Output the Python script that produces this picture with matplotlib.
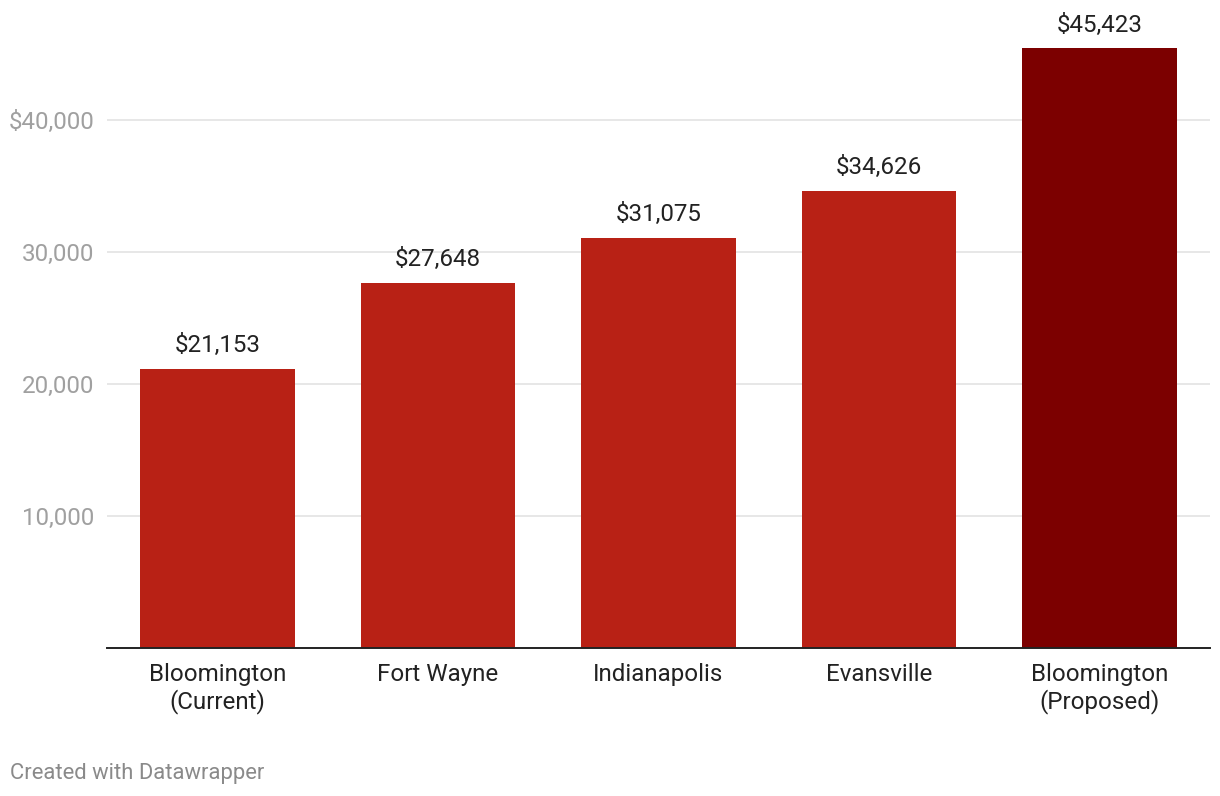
import matplotlib
matplotlib.use("Agg")
from matplotlib import pyplot as plt

# values
cities = ["Bloomington\n(Current)", "Fort Wayne", "Indianapolis", "Evansville", "Bloomington\n(Proposed)"]
values = [21153, 27648, 31075, 34626, 45423]
ticks = [10000, 20000, 30000, 40000]
tick_labels = ["10,000", "20,000", "30,000", "$40,000"]

colors = ["#b82115"] * 4 + ["#7c0000"]

plt.rcParams['font.family'] = ['Roboto', 'DejaVu Sans']

fig = plt.figure(figsize=(12.2, 7.96), dpi=100)
ax = fig.add_axes([107/1220, 1 - 648/796, (1210-107)/1220, 607.2/796])

x = list(range(len(values)))
ax.bar(x, values, width=0.7, color=colors, zorder=2)

for xi, v in zip(x, values):
    ax.annotate("${:,}".format(v), (xi, v), xytext=(0, 8.5), textcoords="offset points",
                ha="center", va="bottom", fontsize=17.4, color="#222222")

ax.set_xlim(-0.5, 4.5)
ax.set_ylim(0, 46000)
ax.set_yticks(ticks)
ax.set_yticklabels(tick_labels)
ax.yaxis.grid(True, color="#e3e3e3", linewidth=1.2, zorder=0)
ax.tick_params(axis="y", length=0, pad=9, labelsize=17.4, labelcolor="#a0a0a0")
ax.set_xticks(x)
ax.set_xticklabels(cities, fontsize=17.4, color="#222222", linespacing=1.2)
ax.tick_params(axis="x", length=0, pad=10.5)

for s in ["top", "right", "left"]:
    ax.spines[s].set_visible(False)
ax.spines["bottom"].set_color("#222222")
ax.spines["bottom"].set_linewidth(1.4)
ax.spines["bottom"].set_zorder(3)

fig.text(10/1220, 1 - 774/796, "Created with Datawrapper", fontsize=15.8, color="#8a8a8a",
         ha="left", va="center")

fig.savefig("out.png", dpi=100)
